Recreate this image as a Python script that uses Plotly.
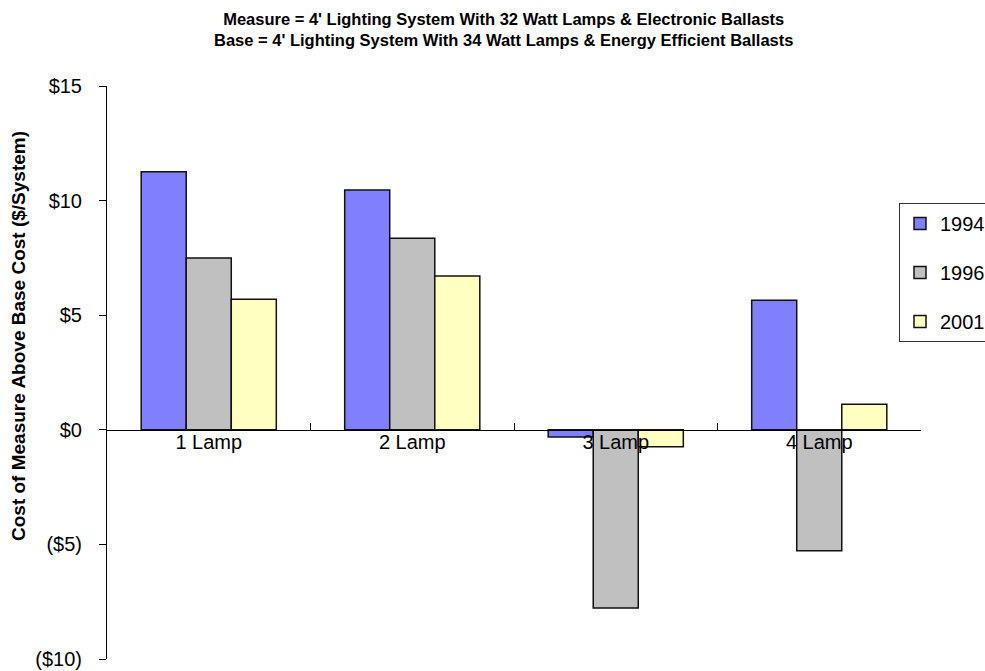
import plotly.graph_objects as go

# Incremental cost of the measure over the base case, $/system
categories = ["1 Lamp", "2 Lamp", "3 Lamp", "4 Lamp"]
years = ["1994", "1996", "2001"]
cost_1994 = [11.26, 10.46, -0.31, 5.65]
cost_1996 = [7.50, 8.36, -7.78, -5.28]
cost_2001 = [5.70, 6.71, -0.74, 1.11]
bar_colors = ["#8080FF", "#C0C0C0", "#FFFFC0"]

tick_values = [-10, -5, 0, 5, 10, 15]
tick_labels = ["($10)", "($5)", "$0", "$5", "$10", "$15"]

title_lines = [
    "Measure = 4' Lighting System With 32 Watt Lamps & Electronic Ballasts",
    "Base = 4' Lighting System With 34 Watt Lamps & Energy Efficient Ballasts",
]
y_title = "Cost of Measure Above Base Cost ($/System)"

FONT = "Arial, Liberation Sans, sans-serif"
W, H = 985, 671
ML, MR, MT, MB = 107, 64, 86, 12
PW, PH = W - ML - MR, H - MT - MB
Y_MIN, Y_MAX = -10, 15


def px_x(x):
    return (x - ML) / PW


def px_y(y):
    return (H - MB - y) / PH


fig = go.Figure()
for name, vals, col in zip(years, [cost_1994, cost_1996, cost_2001], bar_colors):
    fig.add_trace(go.Bar(
        x=categories, y=vals, name=name, legendgroup=name,
        marker=dict(color=col, line=dict(color="#111111", width=1.5)),
    ))

zero_pos = (0 - Y_MIN) / (Y_MAX - Y_MIN)

fig.update_layout(
    width=W, height=H,
    margin=dict(l=ML, r=MR, t=MT, b=MB, autoexpand=False),
    plot_bgcolor="white", paper_bgcolor="white",
    font=dict(family=FONT, size=20, color="black"),
    barmode="group", bargap=0.336, bargroupgap=0,
    showlegend=True,
    legend=dict(
        x=px_x(899), y=px_y(203), xanchor="left", yanchor="top",
        bgcolor="white", bordercolor="#333", borderwidth=1,
        font=dict(family=FONT, size=20, color="black"),
        traceorder="grouped", tracegroupgap=20,
    ),
    xaxis=dict(
        type="category", categoryorder="array", categoryarray=categories,
        anchor="free", position=zero_pos,
        showline=True, linecolor="black", linewidth=1,
        ticks="inside", ticklen=7, tickcolor="black", tickson="boundaries",
        showgrid=False, zeroline=False,
        tickfont=dict(family=FONT, size=20, color="black"),
        ticklabelstandoff=-6,
    ),
    xaxis2=dict(
        overlaying="x", anchor="free", position=zero_pos,
        range=[-0.5, len(categories) - 0.5], tick0=-0.5, dtick=1,
        ticks="outside", ticklen=7, tickcolor="black",
        showticklabels=False, showline=False, showgrid=False, zeroline=False,
    ),
    yaxis=dict(
        range=[Y_MIN, Y_MAX], tickvals=tick_values, ticktext=tick_labels,
        showline=True, linecolor="black", linewidth=1,
        ticks="outside", ticklen=7, tickcolor="black",
        showgrid=False, zeroline=False,
        tickfont=dict(family=FONT, size=20, color="black"),
        ticklabelstandoff=13,
    ),
    yaxis2=dict(
        overlaying="y", anchor="x", side="left",
        range=[Y_MIN, Y_MAX], tickvals=tick_values,
        ticks="inside", ticklen=7, tickcolor="black",
        showticklabels=False, showline=False, showgrid=False, zeroline=False,
    ),
)

# Two-line bold title
fig.add_annotation(
    text="<br>".join(f"<b>{line}</b>" for line in title_lines),
    xref="paper", yref="paper",
    x=px_x(503), y=px_y(29), xanchor="center", yanchor="middle",
    showarrow=False, font=dict(family=FONT, size=16.5, color="black"),
)

# Rotated y-axis title
fig.add_annotation(
    text=f"<b>{y_title}</b>", xref="paper", yref="paper",
    x=px_x(18), y=px_y(336), xanchor="center", yanchor="middle",
    textangle=-90, showarrow=False,
    font=dict(family=FONT, size=19, color="black"),
)

fig.write_html("out.html")
